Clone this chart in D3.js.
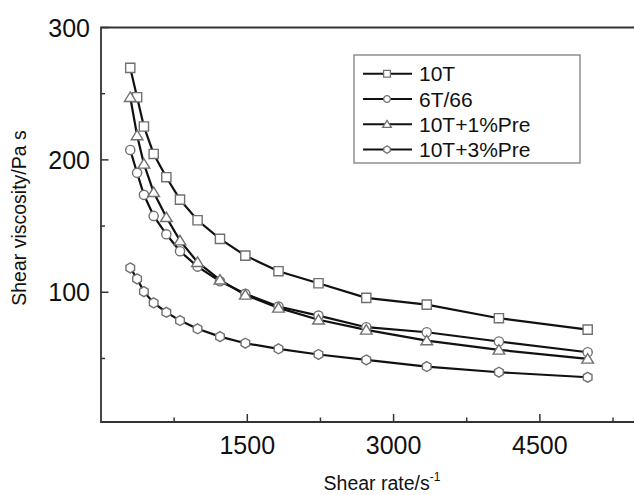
<!DOCTYPE html>
<html>
<head>
<meta charset="utf-8">
<script src="https://cdn.jsdelivr.net/npm/d3@7"></script>
<style>
  html, body { margin: 0; padding: 0; background: #fff; }
  svg { display: block; font-family: "Liberation Sans", Arial, sans-serif; }
</style>
</head>
<body>
<div id="chart"></div>
<script>
// Shear viscosity vs shear rate, 4 formulations
const shearRate = [300, 370, 440, 540, 670, 810, 990, 1220, 1480, 1820, 2230, 2720, 3340, 4080, 4990]
const v10T = [269.5, 247.3, 225.2, 204.5, 186.9, 170, 154.4, 140.3, 127.7, 115.9, 106.8, 95.8, 90.7, 80.4, 71.8]
const v6T66 = [207.5, 190.2, 173.6, 157.7, 143.8, 131, 119.4, 108.3, 98.8, 89.2, 82.4, 73.6, 69.8, 62.8, 54.7]
const v1Pre = [247.3, 218.4, 197, 175.5, 156.6, 139, 122.7, 109.4, 98, 88.2, 79.2, 71.6, 63.5, 56.5, 49.7]
const v3Pre = [118.4, 110.1, 100.5, 92, 84.9, 78.6, 72.4, 66.5, 61.5, 57.3, 53, 48.9, 43.9, 39.6, 35.8]

const seriesNames = ["10T", "6T/66", "10T+1%Pre", "10T+3%Pre"]
const seriesValues = [v10T, v6T66, v1Pre, v3Pre]
const seriesSymbols = ["square", "circle", "triangle", "hexagon"]

const xMajor = [1500, 3000, 4500]
const xMinor = [750, 2250, 3750, 5250]
const yMajor = [100, 200, 300]
const yMinor = [50, 150, 250]

const W = 634, H = 495
const plotL = 101, plotR = 634, plotT = 27.5, plotB = 422

const svg = d3.select("#chart").append("svg")
  .attr("width", W).attr("height", H)
  .attr("viewBox", `0 0 ${W} ${H}`)

const x = d3.scaleLinear().domain([0, 5465]).range([plotL, plotR])
const y = d3.scaleLinear().domain([2, 300]).range([plotB, plotT])

// marqueurs
function symbolPath(type, s) {
  if (type === "square") return `M${-s},${-s}H${s}V${s}H${-s}Z`
  if (type === "circle") return d3.symbol(d3.symbolCircle, Math.PI * s * s)()
  if (type === "triangle") {
    const h = s * 1.15
    return `M0,${-h}L${h * 1.1},${h * 0.8}L${-h * 1.1},${h * 0.8}Z`
  }
  // hexagone, pointe en haut
  const pts = d3.range(6).map((i) => {
    const a = -Math.PI / 2 + i * Math.PI / 3
    return [s * 1.08 * Math.cos(a), s * 1.08 * Math.sin(a)]
  })
  return "M" + pts.map((p) => p.join(",")).join("L") + "Z"
}

const lineGen = d3.line().x((d) => x(d[0])).y((d) => y(d[1]))

seriesValues.forEach((vals) => {
  const pts = shearRate.map((r, i) => [r, vals[i]])
  svg.append("path")
    .attr("d", lineGen(pts))
    .attr("fill", "none").attr("stroke", "#111").attr("stroke-width", 2.2)
})
seriesValues.forEach((vals, k) => {
  svg.append("g").selectAll("path")
    .data(shearRate.map((r, i) => [r, vals[i]]))
    .join("path")
    .attr("transform", (d) => `translate(${x(d[0])},${y(d[1])})`)
    .attr("d", symbolPath(seriesSymbols[k], 4.6))
    .attr("fill", "#fff").attr("stroke", "#707070").attr("stroke-width", 1.4)
})

// cadre : axe gauche, bas, haut
const axisColor = "#333"
svg.append("path")
  .attr("d", `M${plotR},${plotT}H${plotL}V${plotB}H${plotR}`)
  .attr("fill", "none").attr("stroke", axisColor).attr("stroke-width", 1.8)

// graduations (vers l'intérieur)
svg.append("g").selectAll("line")
  .data(xMajor.map((v) => [v, 8]).concat(xMinor.map((v) => [v, 4.5])))
  .join("line")
  .attr("x1", (d) => x(d[0])).attr("x2", (d) => x(d[0]))
  .attr("y1", plotB).attr("y2", (d) => plotB - d[1])
  .attr("stroke", axisColor).attr("stroke-width", 1.5)

svg.append("g").selectAll("line")
  .data(yMajor.map((v) => [v, 7.5]).concat(yMinor.map((v) => [v, 4])))
  .join("line")
  .attr("y1", (d) => y(d[0])).attr("y2", (d) => y(d[0]))
  .attr("x1", plotL).attr("x2", (d) => plotL + d[1])
  .attr("stroke", axisColor).attr("stroke-width", 1.5)

// libellés des graduations
svg.append("g").selectAll("text")
  .data(xMajor)
  .join("text")
  .attr("x", (d) => x(d)).attr("y", 454)
  .attr("text-anchor", "middle").attr("font-size", 25).attr("fill", "#111")
  .text((d) => d)

svg.append("g").selectAll("text")
  .data(yMajor)
  .join("text")
  .attr("x", 90).attr("y", (d) => y(d) + 9)
  .attr("text-anchor", "end").attr("font-size", 25).attr("fill", "#111")
  .text((d) => d)

// titres d'axes
const xt = svg.append("text")
  .attr("x", 382).attr("y", 490)
  .attr("text-anchor", "middle").attr("font-size", 19.5).attr("fill", "#111")
xt.append("tspan").text("Shear rate/s")
xt.append("tspan").attr("font-size", 12).attr("dy", -9).text("-1")

svg.append("text")
  .attr("transform", `translate(26,218) rotate(-90)`)
  .attr("text-anchor", "middle").attr("font-size", 19.5).attr("fill", "#111")
  .text("Shear viscosity/Pa s")

// légende
const lg = svg.append("g")
lg.append("rect")
  .attr("x", 354).attr("y", 55).attr("width", 226).attr("height", 108)
  .attr("fill", "#fff").attr("stroke", "#888").attr("stroke-width", 1.4)
seriesNames.forEach((name, i) => {
  const cy = 73.7 + i * 25.3
  lg.append("line")
    .attr("x1", 363).attr("x2", 412).attr("y1", cy).attr("y2", cy)
    .attr("stroke", "#111").attr("stroke-width", 2)
  lg.append("path")
    .attr("transform", `translate(387,${cy})`)
    .attr("d", symbolPath(seriesSymbols[i], 3.4))
    .attr("fill", "#fff").attr("stroke", "#707070").attr("stroke-width", 1.3)
  lg.append("text")
    .attr("x", 419).attr("y", cy + 7.5)
    .attr("font-size", 21).attr("fill", "#111")
    .text(name)
})
</script>
</body>
</html>
